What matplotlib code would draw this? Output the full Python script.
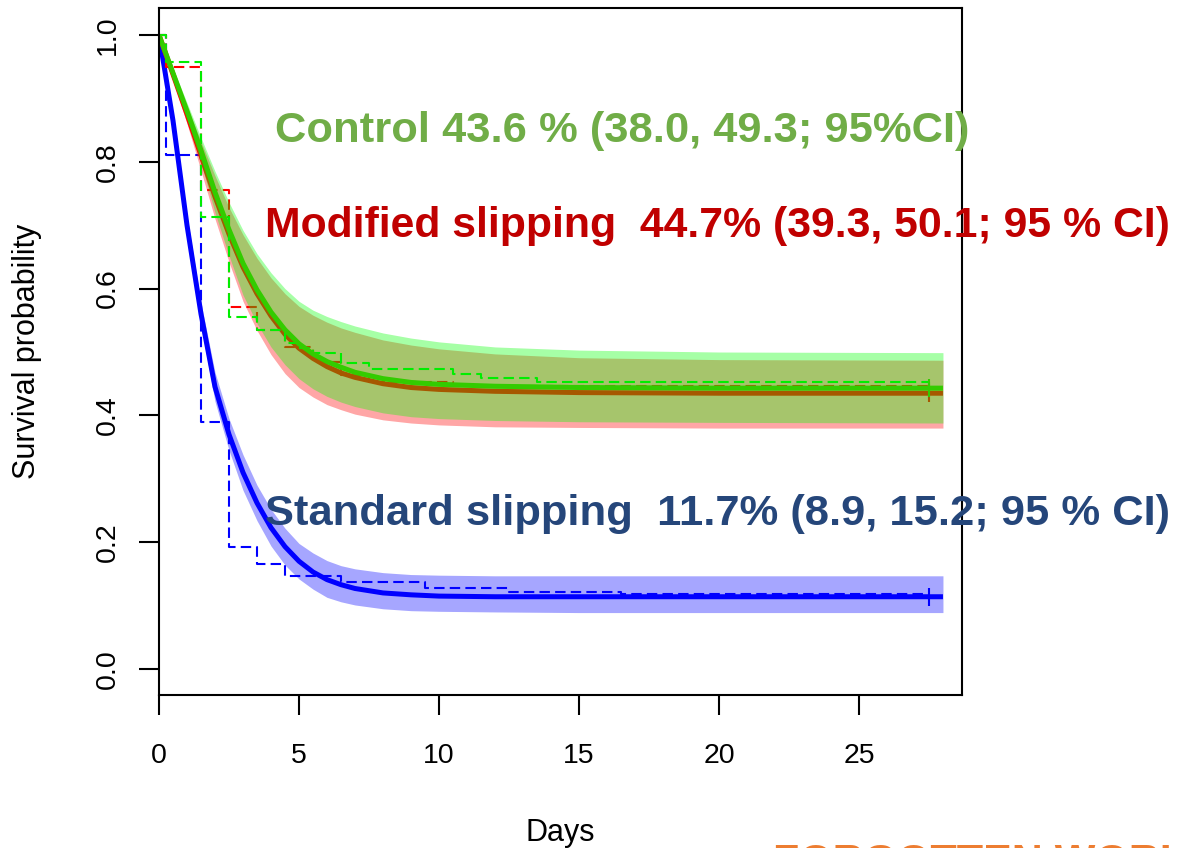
import matplotlib
matplotlib.use("Agg")
import matplotlib.pyplot as plt

plt.rcParams['font.family'] = ['Liberation Sans', 'DejaVu Sans']

# Kaplan-Meier steps (dashed)
km_std_days = [0, 0.25, 1.5, 2.5, 3.5, 4.5, 6.5, 9.5, 12.5, 16.5, 27.5]
km_std_surv = [1.0, 0.81, 0.39, 0.193, 0.165, 0.146, 0.138, 0.128, 0.122, 0.118, 0.118]

km_mod_days = [0, 0.25, 1.5, 2.5, 3.5, 4.5, 5.5, 6.5, 7.5, 10.5, 27.5]
km_mod_surv = [1.0, 0.95, 0.755, 0.571, 0.535, 0.508, 0.485, 0.463, 0.452, 0.447, 0.447]

km_ctl_days = [0, 0.25, 1.5, 2.5, 3.5, 4.5, 5.0, 5.5, 6.5, 7.5, 10.5, 11.5, 13.5, 27.5]
km_ctl_surv = [1.0, 0.957, 0.713, 0.556, 0.534, 0.514, 0.506, 0.498, 0.482, 0.473,
               0.466, 0.459, 0.452, 0.446]

# fitted curves (solid) with confidence bands
fit_days = [0, 0.5, 1, 1.5, 2, 2.5, 3, 3.5, 4, 4.5, 5, 5.5, 6, 6.5, 7, 8, 9, 10, 12, 15, 20, 28]

std_fit = [1.0, 0.865, 0.70, 0.56, 0.445, 0.37, 0.31, 0.262, 0.223, 0.193, 0.17, 0.153,
           0.141, 0.133, 0.127, 0.12, 0.117, 0.115, 0.114, 0.114, 0.114, 0.114]
std_hi = [1.0, 0.875, 0.715, 0.578, 0.468, 0.395, 0.338, 0.29, 0.252, 0.222, 0.198, 0.183,
          0.171, 0.163, 0.158, 0.152, 0.149, 0.148, 0.147, 0.147, 0.147, 0.147]
std_lo = [1.0, 0.855, 0.685, 0.542, 0.422, 0.345, 0.282, 0.234, 0.194, 0.164, 0.142, 0.126,
          0.113, 0.106, 0.101, 0.095, 0.092, 0.091, 0.09, 0.089, 0.089, 0.089]

ctl_fit = [1.0, 0.94, 0.88, 0.818, 0.752, 0.693, 0.64, 0.598, 0.563, 0.535, 0.513, 0.497,
           0.485, 0.476, 0.468, 0.458, 0.452, 0.449, 0.446, 0.444, 0.443, 0.443]
ctl_hi = [1.0, 0.948, 0.893, 0.838, 0.785, 0.736, 0.692, 0.655, 0.625, 0.6, 0.58, 0.566,
          0.556, 0.548, 0.541, 0.53, 0.522, 0.516, 0.508, 0.503, 0.5, 0.499]
ctl_lo = [1.0, 0.932, 0.867, 0.798, 0.72, 0.652, 0.59, 0.545, 0.508, 0.48, 0.458, 0.442,
          0.43, 0.421, 0.414, 0.404, 0.398, 0.395, 0.392, 0.39, 0.389, 0.388]

mod_fit = [1.0, 0.938, 0.875, 0.81, 0.745, 0.686, 0.634, 0.592, 0.557, 0.528, 0.506, 0.49,
           0.477, 0.467, 0.46, 0.45, 0.444, 0.441, 0.438, 0.436, 0.435, 0.435]
mod_hi = [1.0, 0.946, 0.888, 0.832, 0.778, 0.728, 0.685, 0.648, 0.617, 0.592, 0.572, 0.558,
          0.547, 0.538, 0.531, 0.519, 0.511, 0.505, 0.497, 0.491, 0.488, 0.487]
mod_lo = [1.0, 0.928, 0.86, 0.786, 0.71, 0.642, 0.58, 0.534, 0.496, 0.466, 0.444, 0.429,
          0.417, 0.409, 0.402, 0.393, 0.388, 0.385, 0.382, 0.381, 0.38, 0.38]

censor_day = 27.5

labels_txt = [
    "Control 43.6 % (38.0, 49.3; 95%CI)",
    "Modified slipping  44.7% (39.3, 50.1; 95 % CI)",
    "Standard slipping  11.7% (8.9, 15.2; 95 % CI)",
]

x_ticks = [0, 5, 10, 15, 20, 25]
y_ticks = [0.0, 0.2, 0.4, 0.6, 0.8, 1.0]

fig = plt.figure(figsize=(11.84, 8.48), dpi=100)
ax = fig.add_axes([159 / 1184, 1 - 695 / 848, 803 / 1184, 687 / 848])

dash = (5, 2.5)
z = 1

# standard slipping
ax.fill_between(fit_days, std_lo, std_hi, color='#0000ff', alpha=0.35, lw=0, zorder=z)
ax.step(km_std_days, km_std_surv, where='post', color='#0000ff', lw=1.5, dashes=dash, zorder=z + 1)
ax.plot(fit_days, std_fit, color='#0000ff', lw=3.6, solid_capstyle='butt', zorder=z + 2)
ax.plot([censor_day], [std_fit[-1]], marker='|', ms=13, mew=1.5, color='#0000ff', zorder=z + 2)

# modified slipping (drawn under the control band, so it turns brown there)
z = 4
ax.fill_between(fit_days, mod_lo, mod_hi, color='#ff0000', alpha=0.35, lw=0, zorder=z)
ax.step(km_mod_days, km_mod_surv, where='post', color='#ff0000', lw=1.5, dashes=dash, zorder=z + 1)
ax.plot(fit_days, mod_fit, color='#ff0000', lw=3.6, solid_capstyle='butt', zorder=z + 2)
ax.plot([censor_day], [mod_fit[-1]], marker='|', ms=13, mew=1.5, color='#ff0000', zorder=z + 2)

# control
z = 7
ax.fill_between(fit_days, ctl_lo, ctl_hi, color='#00ff00', alpha=0.35, lw=0, zorder=z)
ax.step(km_ctl_days, km_ctl_surv, where='post', color='#00ee00', lw=1.5, dashes=dash, zorder=z + 1)
ax.plot(fit_days, ctl_fit, color='#33cc00', lw=3.6, solid_capstyle='butt', zorder=z + 2)
ax.plot([censor_day], [ctl_fit[-1]], marker='|', ms=13, mew=1.5, color='#33cc00', zorder=z + 2)

ax.set_xlim(0, 28.68)
ax.set_ylim(-0.041, 1.0426)

ax.set_xticks(x_ticks)
ax.set_xticklabels([str(t) for t in x_ticks])
ax.set_yticks(y_ticks)
ax.set_yticklabels(["%.1f" % t for t in y_ticks], rotation=90, va='center')

ax.tick_params(axis='both', length=14.4, width=1.5, labelsize=20.5, color='black')
ax.tick_params(axis='x', pad=20)
ax.tick_params(axis='y', pad=13)
for s in ax.spines.values():
    s.set_linewidth(1.5)
    s.set_zorder(20)

ax.set_xlabel("Days", fontsize=22)
ax.set_ylabel("Survival probability", fontsize=22)
ax.xaxis.set_label_coords(0.5, -0.179)
ax.yaxis.set_label_coords(-0.146, 0.5)

ax.text(4.14, 0.832, labels_txt[0], color='#70ad47', fontsize=31.3, fontweight='bold',
        ha='left', va='baseline', zorder=30)
ax.text(3.79, 0.682, labels_txt[1], color='#c00000', fontsize=30.8, fontweight='bold',
        ha='left', va='baseline', zorder=30)
ax.text(3.79, 0.227, labels_txt[2], color='#25467a', fontsize=31.3, fontweight='bold',
        ha='left', va='baseline', zorder=30)

# watermark at the bottom edge, cut off as in the source image
fig.text(773 / 1184, 1 - 874 / 848, "FORGOTTEN WORLD", color='#ed7d31', fontsize=31,
         fontweight='bold', ha='left', va='baseline')

fig.savefig("out.png", dpi=100)
